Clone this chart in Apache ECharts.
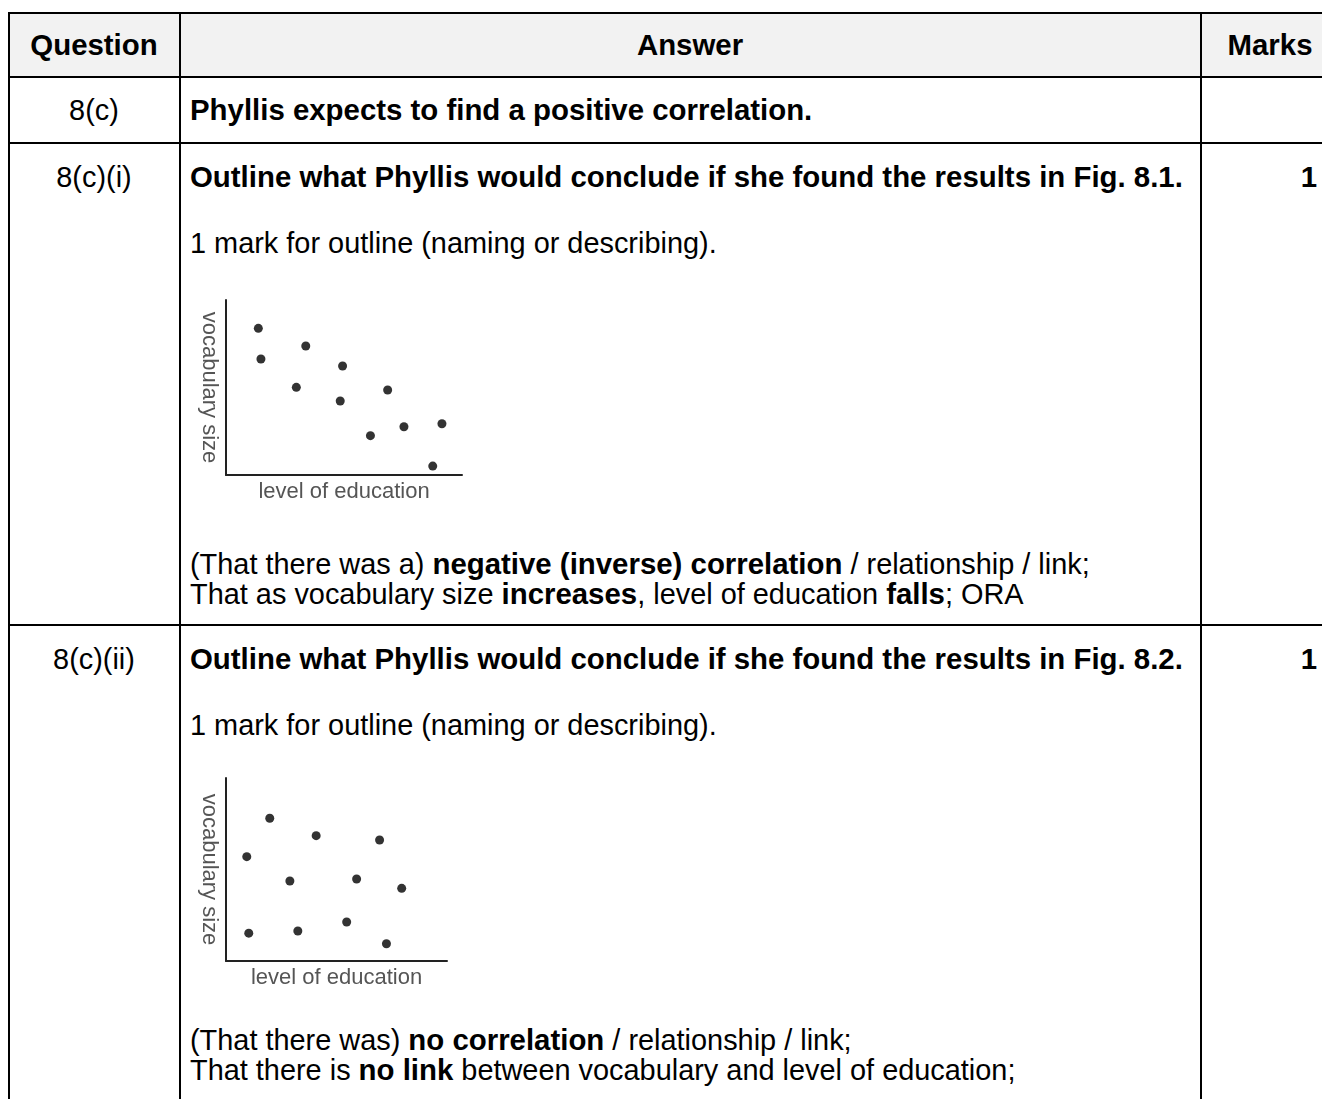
<!DOCTYPE html>
<html>
<head>
<meta charset="utf-8">
<script src="https://cdn.jsdelivr.net/npm/echarts@6/dist/echarts.min.js"></script>
<style>
  html, body { margin: 0; padding: 0; background: #fff; }
  #page { position: relative; width: 1322px; height: 1099px; overflow: hidden;
          font-family: "Liberation Sans", Arial, sans-serif; font-size: 28.9px; color: #000; }
  .t { position: absolute; line-height: 30px; white-space: nowrap; }
  .b, b { font-weight: bold; font-size: 29.4px; }
  .c1 { left: 9px; width: 170px; text-align: center; }
  .hl { position: absolute; height: 2px; background: #000; left: 8px; right: 0; }
  .vl { position: absolute; width: 2px; background: #000; top: 12px; bottom: 0; }
  .chart { position: absolute; }
</style>
</head>
<body>
<div id="page">
  <div style="position:absolute;left:9px;top:13px;right:0;height:64px;background:#f2f2f2"></div>
  <div class="hl" style="top:12px"></div>
  <div class="hl" style="top:76px"></div>
  <div class="hl" style="top:142px"></div>
  <div class="hl" style="top:624px"></div>
  <div class="vl" style="left:8px"></div>
  <div class="vl" style="left:179px"></div>
  <div class="vl" style="left:1200px"></div>

  <div class="t b c1" style="top:30px">Question</div>
  <div class="t b" style="left:180px;width:1020px;text-align:center;top:30px">Answer</div>
  <div class="t b" style="left:1202px;width:136px;text-align:center;top:30px">Marks</div>

  <div class="t c1" style="top:95px">8(c)</div>
  <div class="t b" style="left:190px;top:95px">Phyllis expects to find a positive correlation.</div>

  <div class="t c1" style="top:162px">8(c)(i)</div>
  <div class="t b" style="left:190px;top:162px">Outline what Phyllis would conclude if she found the results in Fig. 8.1.</div>
  <div class="t b" style="left:1202px;width:115px;text-align:right;top:162px">1</div>
  <div class="t" style="left:190px;top:228px">1 mark for outline (naming or describing).</div>
  <div id="fig1" class="chart" style="left:190px;top:290px;width:290px;height:220px"></div>
  <div class="t" style="left:190px;top:549px">(That there was a) <b>negative (inverse) correlation</b> / relationship / link;</div>
  <div class="t" style="left:190px;top:579px">That as vocabulary size <b>increases</b>, level of education <b>falls</b>; ORA</div>

  <div class="t c1" style="top:644px">8(c)(ii)</div>
  <div class="t b" style="left:190px;top:644px">Outline what Phyllis would conclude if she found the results in Fig. 8.2.</div>
  <div class="t b" style="left:1202px;width:115px;text-align:right;top:644px">1</div>
  <div class="t" style="left:190px;top:710px">1 mark for outline (naming or describing).</div>
  <div id="fig2" class="chart" style="left:190px;top:770px;width:270px;height:230px"></div>
  <div class="t" style="left:190px;top:1025px">(That there was) <b>no correlation</b> / relationship / link;</div>
  <div class="t" style="left:190px;top:1055px">That there is <b>no link</b> between vocabulary and level of education;</div>
</div>

<script>
// Fig. 8.1 - negative correlation (x = level of education, y = vocabulary size)
const fig1Education = [13.7, 14.8, 33.8, 29.8, 49.4, 48.4, 68.5, 61.2, 75.4, 91.5, 87.6]
const fig1Vocabulary = [83.8, 66.3, 73.7, 50.1, 62.3, 42.3, 48.6, 22.5, 27.6, 29.3, 5.1]

// Fig. 8.2 - no correlation
const fig2Education = [19.8, 40.8, 69.5, 9.4, 28.9, 59.1, 79.5, 54.6, 10.3, 32.5, 72.6]
const fig2Vocabulary = [78.0, 68.5, 66.1, 57.0, 43.7, 44.8, 39.7, 21.3, 15.2, 16.4, 9.4]

const xName = 'level of education'
const yName = 'vocabulary size'

function makeAxis(name, gap, rotate) {
  const axis = {
    type: 'value',
    min: 0,
    max: 100,
    name: name,
    nameLocation: 'middle',
    nameGap: gap,
    nameTextStyle: { color: '#555', fontSize: 22, fontFamily: 'Liberation Sans' },
    axisLine: { show: true, lineStyle: { color: '#222', width: 2 } },
    axisTick: { show: false },
    axisLabel: { show: false },
    splitLine: { show: false }
  }
  if (rotate !== undefined) axis.nameRotate = rotate
  return axis
}

function initFig(id, xs, ys, grid) {
  const chart = echarts.init(document.getElementById(id), null, { renderer: 'canvas' })
  chart.setOption({
    animation: false,
    grid: grid,
    xAxis: makeAxis(xName, 6),
    yAxis: makeAxis(yName, 6, -90),
    series: [{
      type: 'scatter',
      symbolSize: 9,
      itemStyle: { color: '#000' },
      data: xs.map((x, i) => [x, ys[i]])
    }]
  })
  return chart
}

initFig('fig1', fig1Education, fig1Vocabulary, { left: 33, top: 10, right: 18, bottom: 35 })
initFig('fig2', fig2Education, fig2Vocabulary, { left: 33, top: 8, right: 13, bottom: 39 })
</script>
</body>
</html>
